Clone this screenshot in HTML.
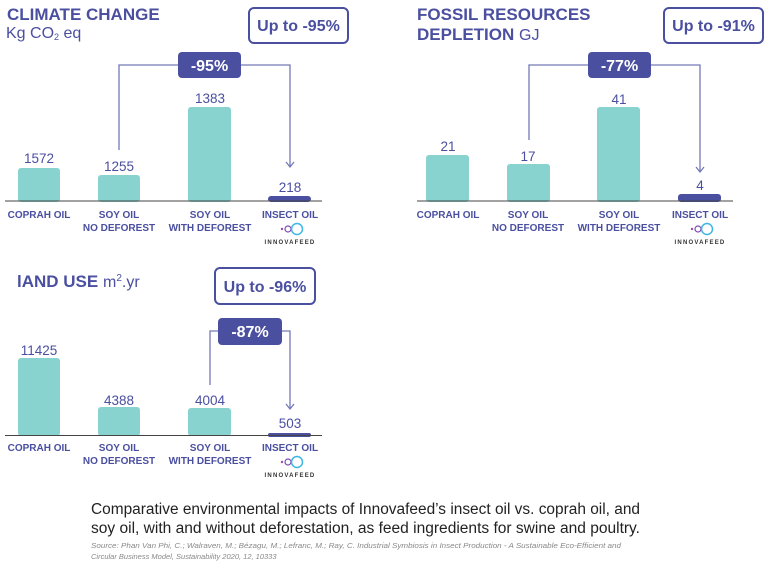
<!DOCTYPE html>
<html><head><meta charset="utf-8"><style>
html,body{margin:0;padding:0;background:#fff;}
svg{display:block;font-family:"Liberation Sans",sans-serif;}
.t{font-weight:bold;fill:#4a4fa0;font-size:17px;}
.u{fill:#4a4fa0;font-size:16px;}
.v{fill:#4a4fa0;font-size:13.5px;text-anchor:middle;}
.c{fill:#4a4fa0;font-size:10px;font-weight:bold;text-anchor:middle;}
.b{font-weight:bold;fill:#4a4fa0;font-size:16px;text-anchor:middle;}
.w{font-weight:bold;fill:#fff;font-size:16px;text-anchor:middle;}
.lg{fill:#333;font-size:6px;font-weight:bold;letter-spacing:1.2px;text-anchor:middle;}
.bar{fill:#88d2cf;}
.ins{fill:#4a4fa0;}
.br{fill:none;stroke:#7479b8;stroke-width:1.3;}
</style></head><body>
<svg width="768" height="564" viewBox="0 0 768 564">
<defs>
<g id="logo"><circle cx="-8" cy="0" r="1.2" fill="#9b4bb0"/><circle cx="-2" cy="0" r="3" fill="none" stroke="#7a4bb0" stroke-width="1.2"/><circle cx="7" cy="0" r="5.5" fill="none" stroke="#3cb7e3" stroke-width="1.5"/></g>
</defs>
<!-- Chart 1 -->
<text x="7" y="20" class="t">CLIMATE CHANGE</text>
<text x="6" y="38" class="u">Kg CO<tspan font-size="9" dy="2">2</tspan><tspan dy="-2"> eq</tspan></text>
<rect x="249" y="8" width="99" height="35" rx="5" fill="#fff" stroke="#4a4fa0" stroke-width="2"/>
<text x="298.5" y="31" class="b">Up to -95%</text>
<polyline class="br" points="119,150 119,65 290,65 290,166"/>
<polyline class="br" points="286,162 290,167 294,162"/>
<rect x="178" y="52" width="63" height="26" rx="4" fill="#4a4fa0"/>
<text x="209.5" y="71" class="w">-95%</text>
<rect class="bar" x="18" y="168" width="42" height="34" rx="3"/>
<rect class="bar" x="98" y="175" width="42" height="27" rx="3"/>
<rect class="bar" x="188" y="107" width="43" height="95" rx="3"/>
<rect class="ins" x="268" y="196" width="43" height="6" rx="3"/>
<line x1="5" y1="201" x2="322" y2="201" stroke="#444" stroke-width="1"/>
<text x="39" y="163" class="v">1572</text><text x="119" y="171" class="v">1255</text>
<text x="210" y="103" class="v">1383</text><text x="290" y="192" class="v">218</text>
<text x="39" y="218" class="c">COPRAH OIL</text>
<text x="119" y="218" class="c">SOY OIL</text><text x="119" y="231" class="c">NO DEFOREST</text>
<text x="210" y="218" class="c">SOY OIL</text><text x="210" y="231" class="c">WITH DEFOREST</text>
<text x="290" y="218" class="c">INSECT OIL</text>
<use href="#logo" x="290" y="229"/><text x="290" y="244" class="lg">INNOVAFEED</text>
<!-- Chart 2 -->
<text x="417" y="20" class="t">FOSSIL RESOURCES</text>
<text x="417" y="40" class="t">DEPLETION <tspan font-weight="normal" font-size="16">GJ</tspan></text>
<rect x="664" y="8" width="99" height="35" rx="5" fill="#fff" stroke="#4a4fa0" stroke-width="2"/>
<text x="713.5" y="31" class="b">Up to -91%</text>
<polyline class="br" points="529,140 529,65 700,65 700,171"/>
<polyline class="br" points="696,167 700,172 704,167"/>
<rect x="588" y="52" width="63" height="26" rx="4" fill="#4a4fa0"/>
<text x="619.5" y="71" class="w">-77%</text>
<rect class="bar" x="426" y="155" width="43" height="47" rx="3"/>
<rect class="bar" x="507" y="164" width="43" height="38" rx="3"/>
<rect class="bar" x="597" y="107" width="43" height="95" rx="3"/>
<rect class="ins" x="678" y="194" width="43" height="8" rx="3"/>
<line x1="417" y1="201" x2="733" y2="201" stroke="#444" stroke-width="1"/>
<text x="448" y="151" class="v">21</text><text x="528" y="161" class="v">17</text>
<text x="619" y="104" class="v">41</text><text x="700" y="190" class="v">4</text>
<text x="448" y="218" class="c">COPRAH OIL</text>
<text x="528" y="218" class="c">SOY OIL</text><text x="528" y="231" class="c">NO DEFOREST</text>
<text x="619" y="218" class="c">SOY OIL</text><text x="619" y="231" class="c">WITH DEFOREST</text>
<text x="700" y="218" class="c">INSECT OIL</text>
<use href="#logo" x="700" y="229"/><text x="700" y="244" class="lg">INNOVAFEED</text>
<!-- Chart 3 -->
<text x="17" y="287" class="t">lAND USE</text>
<text x="103" y="287" class="u">m<tspan font-size="10" dy="-6">2</tspan><tspan dy="6">.yr</tspan></text>
<rect x="215" y="268" width="100" height="36" rx="5" fill="#fff" stroke="#4a4fa0" stroke-width="2"/>
<text x="265" y="292" class="b">Up to -96%</text>
<polyline class="br" points="210,385 210,331 290,331 290,408"/>
<polyline class="br" points="286,404 290,409 294,404"/>
<rect x="218" y="318" width="64" height="27" rx="4" fill="#4a4fa0"/>
<text x="250" y="337" class="w">-87%</text>
<rect class="bar" x="18" y="358" width="42" height="78" rx="3"/>
<rect class="bar" x="98" y="407" width="42" height="29" rx="3"/>
<rect class="bar" x="188" y="408" width="43" height="28" rx="3"/>
<rect class="ins" x="268" y="433" width="43" height="4" rx="2"/>
<line x1="5" y1="435.5" x2="322" y2="435.5" stroke="#444" stroke-width="1"/>
<text x="39" y="355" class="v">11425</text><text x="119" y="405" class="v">4388</text>
<text x="210" y="405" class="v">4004</text><text x="290" y="428" class="v">503</text>
<text x="39" y="451" class="c">COPRAH OIL</text>
<text x="119" y="451" class="c">SOY OIL</text><text x="119" y="464" class="c">NO DEFOREST</text>
<text x="210" y="451" class="c">SOY OIL</text><text x="210" y="464" class="c">WITH DEFOREST</text>
<text x="290" y="451" class="c">INSECT OIL</text>
<use href="#logo" x="290" y="462"/><text x="290" y="477" class="lg">INNOVAFEED</text>
<!-- Caption -->
<text x="91" y="514" fill="#222" font-size="15.5" textLength="549" lengthAdjust="spacingAndGlyphs">Comparative environmental impacts of Innovafeed’s insect oil vs. coprah oil, and</text>
<text x="91" y="533" fill="#222" font-size="15.5" textLength="549" lengthAdjust="spacingAndGlyphs">soy oil, with and without deforestation, as feed ingredients for swine and poultry.</text>
<text x="91" y="548" fill="#888" font-size="7.5" font-style="italic" textLength="530" lengthAdjust="spacingAndGlyphs">Source: Phan Van Phi, C.; Walraven, M.; Bézagu, M.; Lefranc, M.; Ray, C. Industrial Symbiosis in Insect Production - A Sustainable Eco-Efficient and</text>
<text x="91" y="559" fill="#888" font-size="7.5" font-style="italic">Circular Business Model, Sustainability 2020, 12, 10333</text>
</svg>
</body></html>
